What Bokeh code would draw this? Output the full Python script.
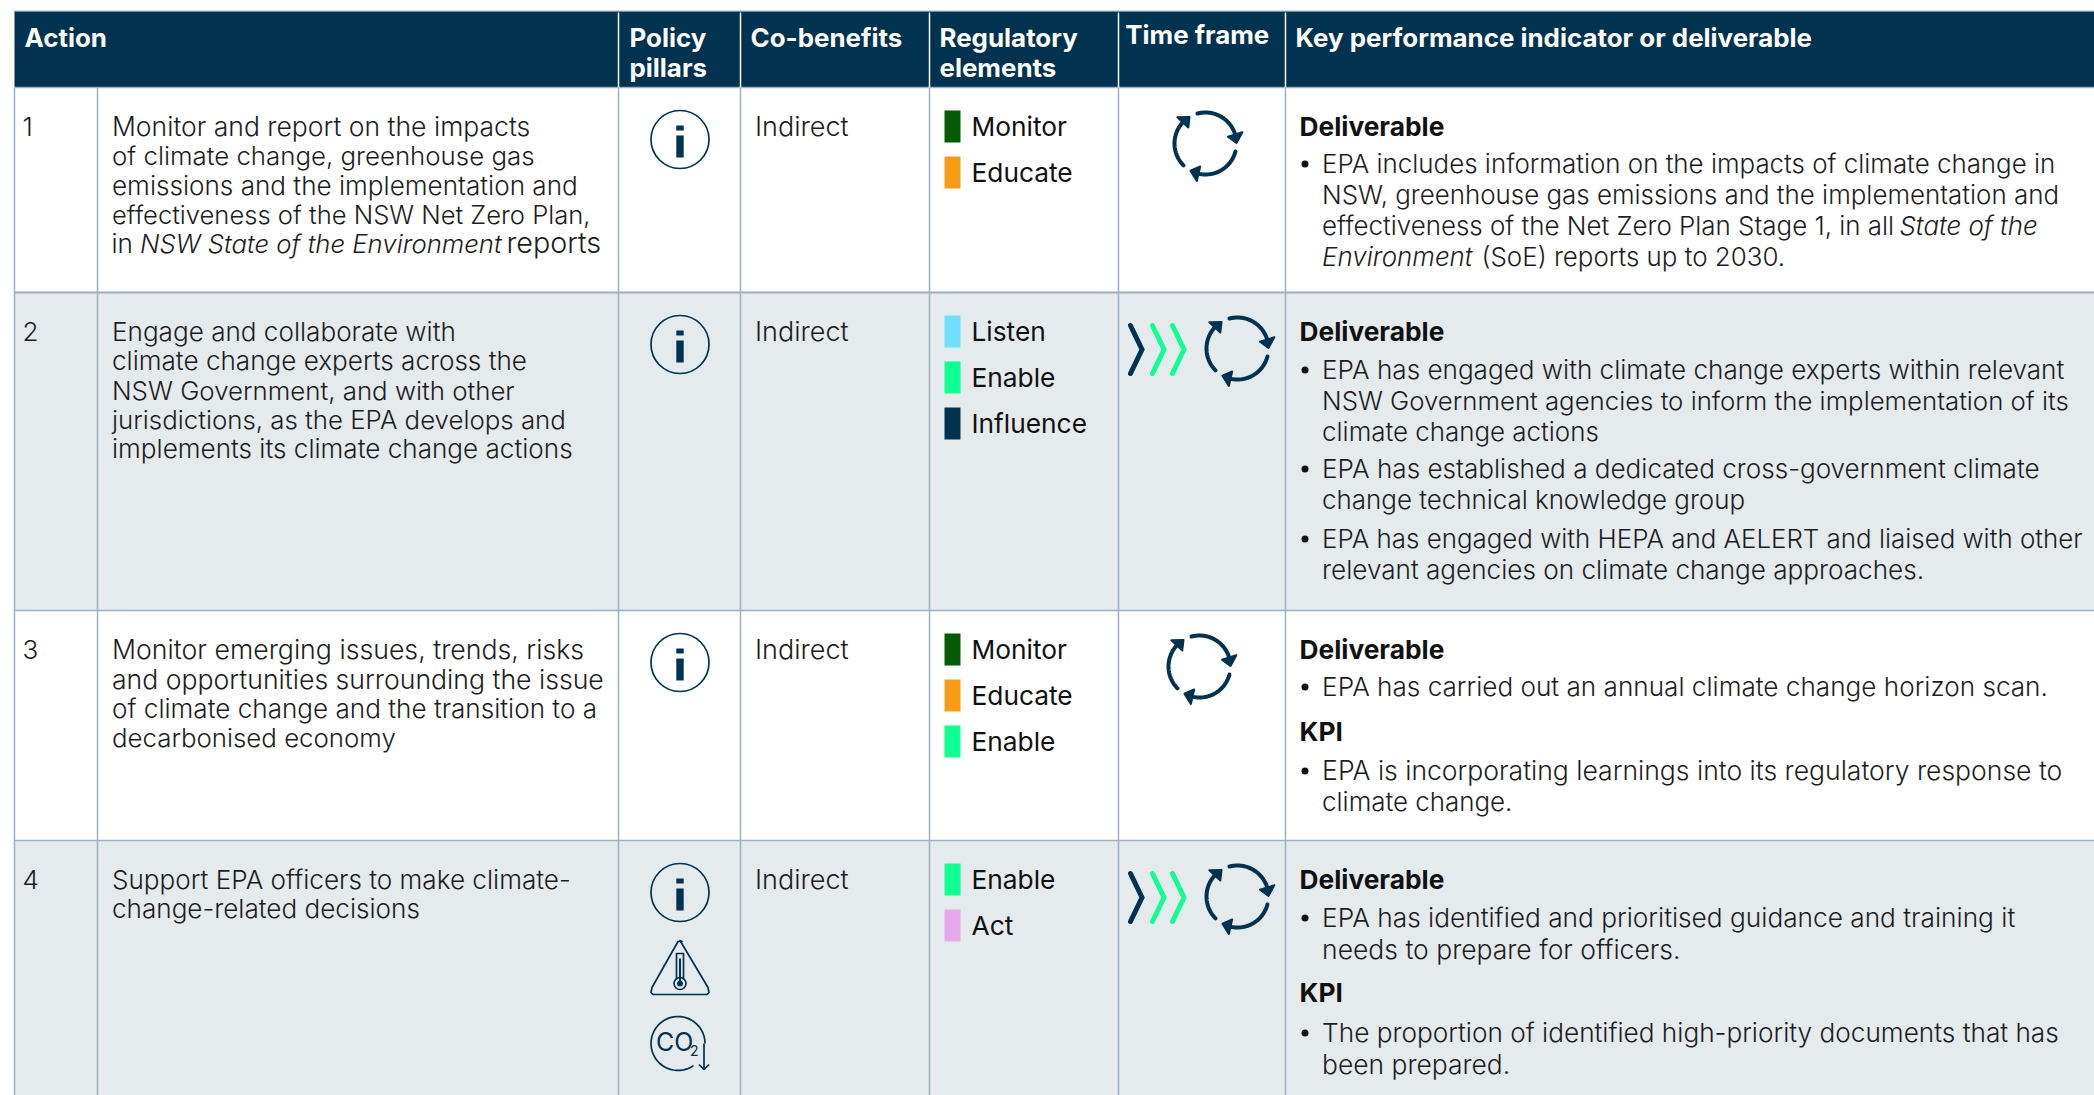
import math
from bokeh.plotting import figure
from bokeh.models import Range1d
from bokeh.core.properties import value
from bokeh.embed import file_html
from bokeh.resources import INLINE

# ---- content ----
headers = ["Action", "Policy\npillars", "Co-benefits", "Regulatory\nelements", "Time frame",
           "Key performance indicator or deliverable"]
action_numbers = ["1", "2", "3", "4"]
action_text = [
    ["Monitor and report on the impacts", "of climate change, greenhouse gas",
     "emissions and the implementation and", "effectiveness of the NSW Net Zero Plan,",
     "in |*NSW State of the Environment*| reports"],
    ["Engage and collaborate with", "climate change experts across the",
     "NSW Government, and with other", "jurisdictions, as the EPA develops and",
     "implements its climate change actions"],
    ["Monitor emerging issues, trends, risks", "and opportunities surrounding the issue",
     "of climate change and the transition to a", "decarbonised economy"],
    ["Support EPA officers to make climate-", "change-related decisions"],
]
co_benefits = ["Indirect", "Indirect", "Indirect", "Indirect"]
pillars = [["info"], ["info"], ["info"], ["info", "heat", "co2"]]
regulatory = [["Monitor", "Educate"], ["Listen", "Enable", "Influence"],
              ["Monitor", "Educate", "Enable"], ["Enable", "Act"]]
time_frame = ["ongoing", "now+ongoing", "ongoing", "now+ongoing"]
kpi_blocks = [
    [("Deliverable", [["EPA includes information on the impacts of climate change in",
                       "NSW, greenhouse gas emissions and the implementation and",
                       "effectiveness of the Net Zero Plan Stage 1, in all |*State of the*",
                       "*Environment*| (SoE) reports up to 2030."]])],
    [("Deliverable", [["EPA has engaged with climate change experts within relevant",
                       "NSW Government agencies to inform the implementation of its",
                       "climate change actions"],
                      ["EPA has established a dedicated cross-government climate",
                       "change technical knowledge group"],
                      ["EPA has engaged with HEPA and AELERT and liaised with other",
                       "relevant agencies on climate change approaches."]])],
    [("Deliverable", [["EPA has carried out an annual climate change horizon scan."]]),
     ("KPI", [["EPA is incorporating learnings into its regulatory response to",
               "climate change."]])],
    [("Deliverable", [["EPA has identified and prioritised guidance and training it",
                       "needs to prepare for officers."]]),
     ("KPI", [["The proportion of identified high-priority documents that has",
               "been prepared."]])],
]

# ---- styles / layout ----
NAVY = "#01324f"
GREY = "#e5eaed"
RULE = "#9cb1c2"
INK = "#1d1d1d"
SWATCH = {"Monitor": "#035c02", "Educate": "#f79c14", "Listen": "#6fe0ff", "Enable": "#0fff95",
          "Influence": "#01324f", "Act": "#e8a8ec"}
LIGHT = value("Inter Light")
REG = value("Inter")
W, H = 2094, 1095
row_tops = [87, 292, 610, 840, 1095]
col_x = [14, 97, 618, 740, 929, 1118, 1285]
LH_L = 29.2
F_L, F_R, F_REG, F_HEAD = 26.1, 25.9, 26.3, 25.9
BASELINE_SHIFT = 0.34
# x of the pieces of lines with italics, and the size scale of each piece
seg_x = {("a", 0, 4): [111, 139.5, 506],
         ("k", 0, 2): [1321.6, 1899],
         ("k", 0, 3): [1321.6, 1481]}
seg_scale = {("a", 0, 4): [1, 0.985, 1.1]}
# per-line fit of the substitute font's width to the reference
line_scale = {("a", 0, 0): 1.016, ("a", 0, 1): 0.99, ("a", 0, 3): 0.98, ("a", 1, 2): 0.99, ("a", 1, 3): 0.99,
              ("a", 2, 0): 1.023, ("a", 2, 1): 1.02, ("a", 2, 3): 0.99,
              ("k", 1, 0): 1.007, ("k", 1, 1): 0.995, ("k", 1, 3): 1.007, ("k", 1, 6): 1.008,
              ("k", 2, 0): 1.009, ("k", 2, 1): 1.024, ("k", 3, 0): 1.013, ("k", 3, 1): 1.022,
              ("k", 3, 2): 1.011, ("k", 3, 3): 1.02}
# baselines in the KPI column, per row
kpi_y = [[135, [172, 203, 234, 265]],
         [340, [378, 409, 440, 477, 508, 547, 578]],
         [658, [695], 740, [779, 810]],
         [888, [926, 957], 1001, [1041, 1072]]]

p = figure(width=W, height=H, x_range=Range1d(0, W), y_range=Range1d(H, 0),
           toolbar_location=None, output_backend="svg", min_border=0,
           x_axis_location=None, y_axis_location=None, outline_line_color=None,
           margin=(0, 0, 0, 0))
p.grid.visible = False


def txt(x, y, s, font=LIGHT, size=F_L, color=INK, style="normal"):
    p.text([x], [y - BASELINE_SHIFT * size], [s], text_font=font, text_font_size=f"{size:.2f}px",
           text_color=color, text_font_style=style, text_baseline="alphabetic", text_align="left")


def rich(key, x, y, s, size):
    parts = s.split("|")
    xs = seg_x.get(key, [x])
    scales = seg_scale.get(key, [line_scale.get(key, 1)] * len(parts))
    for px, part, sc in zip(xs, parts, scales):
        ital = part.startswith("*") or part.endswith("*")
        txt(px, y, part.strip("*").strip() if len(parts) > 1 else part, size=size * sc,
            style="italic" if ital else "normal")


# backgrounds
p.quad(left=[14], right=[W], top=[11], bottom=[87], fill_color=NAVY, line_color=None)
for i in range(4):
    p.quad(left=[14], right=[W], top=[row_tops[i]], bottom=[row_tops[i + 1]],
           fill_color=GREY if i % 2 else "white", line_color=None)
# rules
p.line([14, W], [10.7, 10.7], line_color="#6d8ba3", line_width=1)
for y, lw in zip(row_tops[:4], [1.5, 2.2, 1.5, 1.5]):
    p.line([14, W], [y, y], line_color=RULE, line_width=lw)
for i, x in enumerate(col_x):
    p.line([x, x], [87, H], line_color=RULE, line_width=1.5)
    if i >= 2:
        p.line([x, x], [12, 87], line_color="white", line_width=1.5)

# header
head_pos = [[(24, 46)], [(629, 46), (629, 76)], [(750, 46)], [(939, 46), (939, 76)],
            [(1124.7, 43)], [(1295, 46)]]
for label, pos in zip(headers, head_pos):
    for s, (x, y) in zip(label.split("\n"), pos):
        txt(x, y, s, font=REG, size=F_HEAD, color="white", style="bold")


# icons
def poly_arc(cx, cy, r, a0, a1, n=40):
    a = [math.radians(a0 + (a1 - a0) * k / n) for k in range(n + 1)]
    return [cx + r * math.cos(t) for t in a], [cy - r * math.sin(t) for t in a]


def cycle(cx, cy, r=31):
    for k in range(3):
        s, e = 105 - 120 * k, 12 - 120 * k
        xs, ys = poly_arc(cx, cy, r, s, e)
        p.line(xs, ys, line_color=NAVY, line_width=4, line_cap="round")
        t = math.radians(e - 11)
        tip = (cx + r * math.cos(t), cy - r * math.sin(t))
        b = math.radians(e + 5)
        bx, by = cx + r * math.cos(b), cy - r * math.sin(b)
        nx, ny = math.cos(b), -math.sin(b)
        p.patch([tip[0], bx + 7.5 * nx, bx - 7.5 * nx], [tip[1], by + 7.5 * ny, by - 7.5 * ny],
                fill_color=NAVY, line_color=NAVY, line_width=2, line_join="round")


def chevrons(y):
    for x, c in zip([1130, 1152, 1172], [NAVY, "#0fff95", "#0fff95"]):
        p.line([x, x + 11.5, x], [y - 24, y, y + 24], line_color=c, line_width=5,
               line_cap="round", line_join="miter")


def info(cx, cy):
    p.ellipse([cx], [cy], width=58, height=58, fill_color=None, line_color=NAVY, line_width=1.7)
    p.quad(left=[cx - 3.7], right=[cx + 3.7], top=[cy - 4], bottom=[cy + 18], fill_color=NAVY, line_color=None)
    p.quad(left=[cx - 3.7], right=[cx + 3.7], top=[cy - 14], bottom=[cy - 9], fill_color=NAVY, line_color=None)


def heat(cx, cy):
    p.patch([cx, cx + 28, cx + 29, cx + 27, cx - 27, cx - 29, cx - 28, cx - 2, cx + 2],
            [cy - 27, cy + 20, cy + 25, cy + 27, cy + 27, cy + 25, cy + 20, cy - 26, cy - 26],
            fill_color=None, line_color=NAVY, line_width=1.7, line_join="round")
    p.line([cx - 3.5, cx - 3.5, cx + 3.5, cx + 3.5], [cy + 12, cy - 14, cy - 14, cy + 12],
           line_color=NAVY, line_width=1.7)
    p.ellipse([cx], [cy + 16], width=12, height=12, fill_color=None, line_color=NAVY, line_width=1.7)
    p.ellipse([cx], [cy + 16], width=6, height=6, fill_color=NAVY, line_color=None)
    p.line([cx, cx], [cy - 9, cy + 14], line_color=NAVY, line_width=2)


def co2(cx, cy):
    cx -= 2
    xs, ys = poly_arc(cx, cy, 27, 0, 305)
    p.line(xs, ys, line_color=NAVY, line_width=1.7)
    p.line([cx + 26, cx + 26], [cy, cy + 26], line_color=NAVY, line_width=1.7)
    p.line([cx + 21, cx + 26, cx + 31], [cy + 21, cy + 26, cy + 21], line_color=NAVY, line_width=1.7)
    txt(cx - 22, cy + 7, "CO", font=REG, size=25, color=NAVY)
    txt(cx + 12, cy + 12, "2", font=REG, size=14, color=NAVY)


pillar_draw = {"info": info, "heat": heat, "co2": co2}
pillar_offset = [52, 127, 203]

for r in range(4):
    top = row_tops[r]
    base = top + 48
    txt(22, base, action_numbers[r])
    for j, line in enumerate(action_text[r]):
        rich(("a", r, j), 111.5, base + j * LH_L, line, F_L)
    for kind, off in zip(pillars[r], pillar_offset):
        pillar_draw[kind](679.5, top + off)
    txt(754.5, base, co_benefits[r], size=27)
    for j, name in enumerate(regulatory[r]):
        sy = top + 23 + j * 46
        p.quad(left=[944], right=[960], top=[sy], bottom=[sy + 32], fill_color=SWATCH[name], line_color=None)
        txt(971, base + j * 46, name, font=REG, size=F_REG, color="#111111")
    if "now" in time_frame[r]:
        chevrons(top + 57)
        cycle(1237, top + 56)
    else:
        cycle(1205 if r == 0 else 1199, top + 56)
    # KPI column
    layout = kpi_y[r]
    line_no = 0
    for b, (title, bullets) in enumerate(kpi_blocks[r]):
        txt(1299, layout[2 * b], title, font=REG, size=F_REG, color="#111111", style="bold")
        ys = layout[2 * b + 1]
        n = 0
        for bullet in bullets:
            p.ellipse([1304.5], [ys[n] - 8.5], width=7, height=7, fill_color="#111111", line_color=None)
            for line in bullet:
                rich(("k", r, line_no), 1321.6, ys[n], line, F_R)
                n += 1
                line_no += 1

open("out.html", "w").write(file_html(p, INLINE))
